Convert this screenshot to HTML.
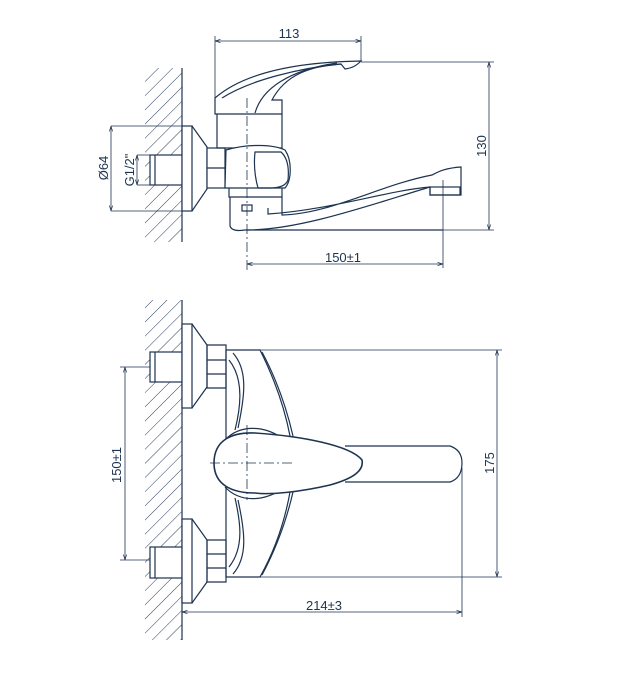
<!DOCTYPE html>
<html><head><meta charset="utf-8"><style>
html,body{margin:0;padding:0;background:#fff;}
svg{display:block;}
text{font-family:"Liberation Sans",sans-serif;font-size:13px;fill:#1d3350;}
</style></head><body>
<svg width="632" height="685" viewBox="0 0 632 685" xmlns="http://www.w3.org/2000/svg">
<defs>
<pattern id="h" patternUnits="userSpaceOnUse" width="10" height="10" patternTransform="rotate(45)">
<line x1="0" y1="0" x2="0" y2="10" stroke="#2a3f5c" stroke-width="1"/>
</pattern>
<marker id="a" viewBox="0 0 10 10" refX="10" refY="5" markerWidth="7" markerHeight="7" orient="auto-start-reverse"><path d="M0,2 L10,5 L0,8" fill="none" stroke="#1d3350" stroke-width="1.2"/></marker>
</defs>
<g fill="none" stroke="#1d3350" stroke-width="1.2">
<!-- ===== TOP VIEW ===== -->
<rect x="145" y="68" width="37" height="174" fill="url(#h)" stroke="none"/>
<line x1="182" y1="68" x2="182" y2="242"/>
<rect x="150" y="155" width="32" height="30" fill="#fff"/>
<line x1="155" y1="155" x2="155" y2="185"/>
<rect x="182" y="126" width="10" height="85" fill="#fff"/>
<path d="M192,126 L207,147 L207,189 L192,211"/>
<rect x="207" y="148" width="18" height="40" fill="#fff"/>
<line x1="207" y1="168" x2="225" y2="168"/>
<line x1="111" y1="126" x2="182" y2="126" stroke-width="0.8"/>
<line x1="111" y1="211" x2="182" y2="211" stroke-width="0.8"/>
<line x1="111" y1="126" x2="111" y2="211" stroke-width="0.8" marker-start="url(#a)" marker-end="url(#a)"/>
<line x1="137" y1="155" x2="150" y2="155" stroke-width="0.8"/>
<line x1="137" y1="185" x2="150" y2="185" stroke-width="0.8"/>
<line x1="137" y1="155" x2="137" y2="185" stroke-width="0.8" marker-start="url(#a)" marker-end="url(#a)"/>
<path d="M215,114 L215,98 C245,72 300,62 361,61 C356,66 352,68 345,69 L341,64 C310,66 285,75 272,100 L282,100 L282,114 Z" fill="#fff"/>
<path d="M255,113 C262,88 290,70 337,63"/>
<path d="M222,98 C250,80 300,68 341,64"/>
<path d="M217,114 L217,148 L282,148 L282,114"/>
<path d="M226,150 C250,143 275,145 285,150 C292,160 292,180 285,188 L225,188 Z" fill="#fff"/>
<path d="M255,152 L281,152 Q290,160 288,180 Q285,188 270,188 L258,188 Q253,170 255,152 Z"/>
<path d="M229,188 L229,197 L282,197 L282,188"/>
<path d="M230,197 L230,226 Q232,232 245,230 L443,230"/>
<path d="M282,197 L282,215 C330,214 380,185 432,175 C438,172 445,168 461,167 L461,195 L430,195 L430,187 C390,190 330,210 268,214 L268,208"/>
<path d="M247,230 C300,230 370,205 430,187"/>
<rect x="430" y="187" width="30" height="8"/>
<rect x="242" y="205" width="10" height="6"/>
<line x1="215" y1="98" x2="215" y2="36" stroke-width="0.8"/>
<line x1="361" y1="61" x2="361" y2="36" stroke-width="0.8"/>
<line x1="215" y1="41" x2="361" y2="41" stroke-width="0.8" marker-start="url(#a)" marker-end="url(#a)"/>
<line x1="361" y1="62" x2="494" y2="62" stroke-width="0.8"/>
<line x1="443" y1="230" x2="494" y2="230" stroke-width="0.8"/>
<line x1="489" y1="62" x2="489" y2="230" stroke-width="0.8" marker-start="url(#a)" marker-end="url(#a)"/>
<line x1="247" y1="98" x2="247" y2="270" stroke-width="0.8" stroke-dasharray="10,3,2,3"/>
<line x1="443" y1="180" x2="443" y2="268" stroke-width="0.8"/>
<line x1="247" y1="264" x2="443" y2="264" stroke-width="0.8" marker-start="url(#a)" marker-end="url(#a)"/>

<!-- ===== FRONT VIEW ===== -->
<rect x="145" y="300" width="37" height="340" fill="url(#h)" stroke="none"/>
<line x1="182" y1="300" x2="182" y2="640"/>
<rect x="150" y="352" width="32" height="30" fill="#fff"/>
<line x1="155" y1="352" x2="155" y2="382"/>
<rect x="150" y="547" width="32" height="31" fill="#fff"/>
<line x1="155" y1="547" x2="155" y2="578"/>
<rect x="182" y="324" width="10" height="84" fill="#fff"/>
<path d="M192,324 L207,345 L207,387 L192,408"/>
<rect x="182" y="519" width="10" height="84" fill="#fff"/>
<path d="M192,519 L207,540 L207,582 L192,603"/>
<path d="M207,345 L226,345 L226,388 L207,388 Z M207,360 L226,360 M207,374 L226,374"/>
<path d="M207,540 L226,540 L226,582 L207,582 Z M207,554 L226,554 M207,568 L226,568"/>
<path d="M226,350 L260,350 C275,380 285,410 290,436"/>
<path d="M226,577 L260,577 C275,550 285,520 290,492"/>
<path d="M229,360 C245,380 240,410 235,430"/>
<path d="M229,567 C245,547 240,520 235,498"/>
<path d="M233,353 C248,370 245,395 238,428"/>
<path d="M233,574 C248,557 245,532 238,500"/>
<path d="M262,352 C278,382 287,410 293,436"/>
<path d="M262,575 C278,545 287,518 293,492"/>
<path d="M226,350 L226,577"/>
<path d="M225,440 C240,424 265,425 285,440"/>
<path d="M225,487 C240,503 265,502 285,487"/>
<path d="M345,446 L450,446 Q462,450 462,463 Q462,478 450,482 L345,482" fill="#fff"/>
<path d="M214,463 C214,440 232,432 255,433 C300,436 350,445 362,460 C364,470 355,478 330,485 C300,492 270,495 255,493 C232,493 214,485 214,463 Z" fill="#fff" stroke-width="1.6"/>
<line x1="210" y1="463" x2="295" y2="463" stroke-width="0.8" stroke-dasharray="10,3,2,3"/>
<line x1="247" y1="425" x2="247" y2="500" stroke-width="0.8" stroke-dasharray="10,3,2,3"/>
<line x1="120" y1="367" x2="150" y2="367" stroke-width="0.8"/>
<line x1="120" y1="560" x2="150" y2="560" stroke-width="0.8"/>
<line x1="125" y1="367" x2="125" y2="560" stroke-width="0.8" marker-start="url(#a)" marker-end="url(#a)"/>
<line x1="260" y1="350" x2="502" y2="350" stroke-width="0.8"/>
<line x1="260" y1="577" x2="502" y2="577" stroke-width="0.8"/>
<line x1="497" y1="350" x2="497" y2="577" stroke-width="0.8" marker-start="url(#a)" marker-end="url(#a)"/>
<line x1="462" y1="468" x2="462" y2="617" stroke-width="0.8"/>
<line x1="182" y1="612" x2="462" y2="612" stroke-width="0.8" marker-start="url(#a)" marker-end="url(#a)"/>
</g>
<text x="289" y="38" text-anchor="middle">113</text>
<text x="343" y="262" text-anchor="middle">150±1</text>
<text x="324" y="610" text-anchor="middle">214±3</text>
<text transform="translate(486,146) rotate(-90)" text-anchor="middle">130</text>
<text transform="translate(494,463) rotate(-90)" text-anchor="middle">175</text>
<text transform="translate(121,465) rotate(-90)" text-anchor="middle">150±1</text>
<text transform="translate(108,168) rotate(-90)" text-anchor="middle">Ø64</text>
<text transform="translate(134,170) rotate(-90)" text-anchor="middle">G1/2"</text>
</svg>
</body></html>
